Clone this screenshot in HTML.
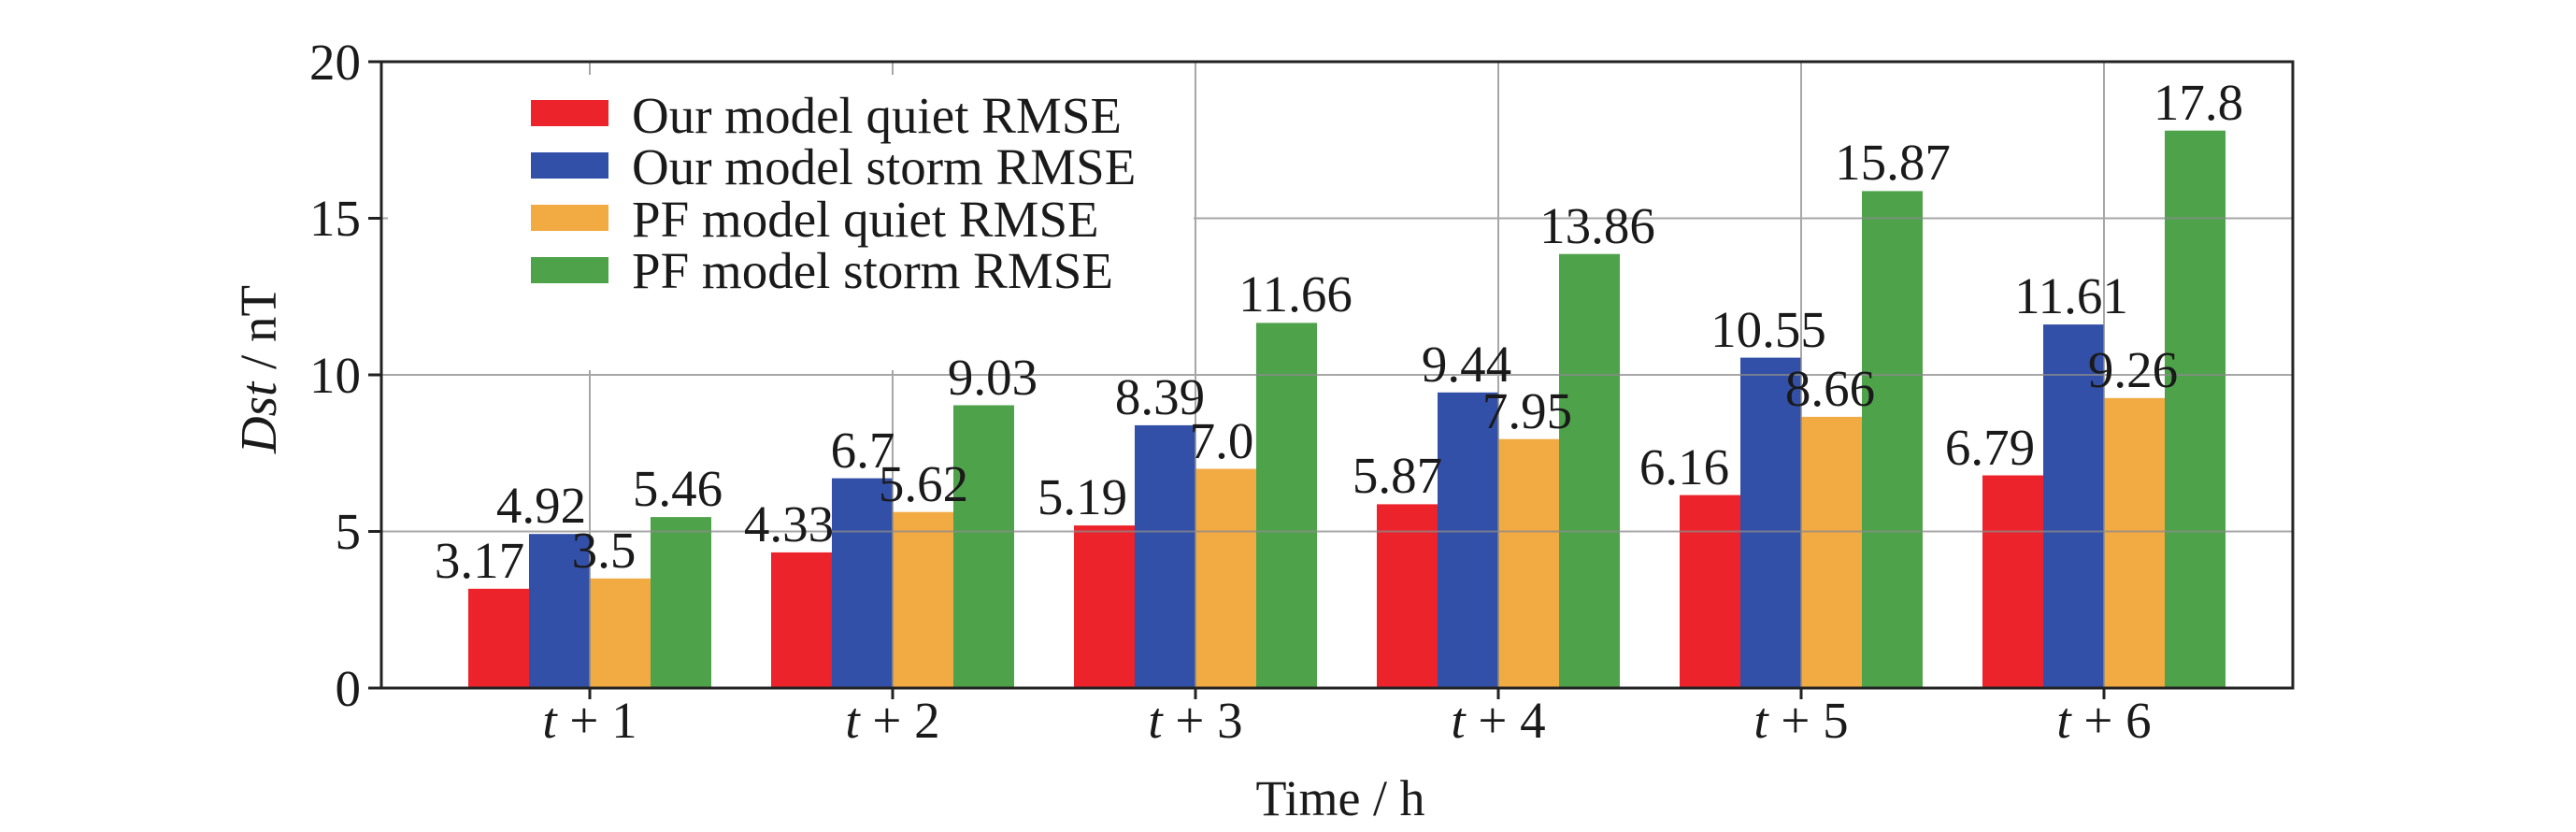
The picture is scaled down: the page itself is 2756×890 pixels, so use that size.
<!DOCTYPE html>
<html><head><meta charset="utf-8"><style>html,body{margin:0;padding:0;background:#fff}svg{display:block}</style></head>
<body>
<svg width="2756" height="890" viewBox="0 0 2756 890" xmlns="http://www.w3.org/2000/svg" font-family="Liberation Serif, serif" fill="#1a1a1a">
<g>
<rect x="501" y="629.8" width="65" height="106.2" fill="#ec232b"/>
<rect x="566" y="571.2" width="65" height="164.8" fill="#3350a8"/>
<rect x="631" y="618.8" width="65" height="117.2" fill="#f2aa42"/>
<rect x="696" y="553.1" width="65" height="182.9" fill="#4ea34a"/>
<rect x="825" y="590.9" width="65" height="145.1" fill="#ec232b"/>
<rect x="890" y="511.6" width="65" height="224.4" fill="#3350a8"/>
<rect x="955" y="547.7" width="65" height="188.3" fill="#f2aa42"/>
<rect x="1020" y="433.5" width="65" height="302.5" fill="#4ea34a"/>
<rect x="1149" y="562.1" width="65" height="173.9" fill="#ec232b"/>
<rect x="1214" y="454.9" width="65" height="281.1" fill="#3350a8"/>
<rect x="1279" y="501.5" width="65" height="234.5" fill="#f2aa42"/>
<rect x="1344" y="345.4" width="65" height="390.6" fill="#4ea34a"/>
<rect x="1473" y="539.4" width="65" height="196.6" fill="#ec232b"/>
<rect x="1538" y="419.8" width="65" height="316.2" fill="#3350a8"/>
<rect x="1603" y="469.7" width="65" height="266.3" fill="#f2aa42"/>
<rect x="1668" y="271.7" width="65" height="464.3" fill="#4ea34a"/>
<rect x="1797" y="529.6" width="65" height="206.4" fill="#ec232b"/>
<rect x="1862" y="382.6" width="65" height="353.4" fill="#3350a8"/>
<rect x="1927" y="445.9" width="65" height="290.1" fill="#f2aa42"/>
<rect x="1992" y="204.4" width="65" height="531.6" fill="#4ea34a"/>
<rect x="2121" y="508.5" width="65" height="227.5" fill="#ec232b"/>
<rect x="2186" y="347.1" width="65" height="388.9" fill="#3350a8"/>
<rect x="2251" y="425.8" width="65" height="310.2" fill="#f2aa42"/>
<rect x="2316" y="139.7" width="65" height="596.3" fill="#4ea34a"/>
</g>
<g stroke="#8a8a8a" stroke-width="2" opacity="0.75">
<line x1="408" y1="568.5" x2="2453" y2="568.5"/>
<line x1="408" y1="401" x2="2453" y2="401"/>
<line x1="408" y1="233.5" x2="2453" y2="233.5"/>
<line x1="631" y1="66" x2="631" y2="736"/>
<line x1="955" y1="66" x2="955" y2="736"/>
<line x1="1279" y1="66" x2="1279" y2="736"/>
<line x1="1603" y1="66" x2="1603" y2="736"/>
<line x1="1927" y1="66" x2="1927" y2="736"/>
<line x1="2251" y1="66" x2="2251" y2="736"/>
</g>
<rect x="415" y="80" width="862" height="316" fill="#fff"/>
<g font-size="55">
<rect x="568" y="107" width="83" height="28" fill="#ec232b"/>
<text x="676" y="142">Our model quiet RMSE</text>
<rect x="568" y="163" width="83" height="28" fill="#3350a8"/>
<text x="676" y="197">Our model storm RMSE</text>
<rect x="568" y="219" width="83" height="28" fill="#f2aa42"/>
<text x="676" y="253">PF model quiet RMSE</text>
<rect x="568" y="275" width="83" height="28" fill="#4ea34a"/>
<text x="676" y="308">PF model storm RMSE</text>
</g>
<rect x="408" y="66" width="2045" height="670" fill="none" stroke="#222" stroke-width="3"/>
<g stroke="#222" stroke-width="3">
<line x1="394" y1="736" x2="408" y2="736"/><line x1="394" y1="568.5" x2="408" y2="568.5"/>
<line x1="394" y1="401" x2="408" y2="401"/><line x1="394" y1="233.5" x2="408" y2="233.5"/>
<line x1="394" y1="66" x2="408" y2="66"/>
<line x1="631" y1="736" x2="631" y2="748"/><line x1="955" y1="736" x2="955" y2="748"/>
<line x1="1279" y1="736" x2="1279" y2="748"/><line x1="1603" y1="736" x2="1603" y2="748"/>
<line x1="1927" y1="736" x2="1927" y2="748"/><line x1="2251" y1="736" x2="2251" y2="748"/>
</g>
<g font-size="55" text-anchor="end">
<text x="386" y="755">0</text><text x="386" y="587">5</text><text x="386" y="420">10</text>
<text x="386" y="252">15</text><text x="386" y="85">20</text>
</g>
<g font-size="55" text-anchor="middle">
<text x="631" y="789"><tspan font-style="italic">t</tspan> + 1</text>
<text x="955" y="789"><tspan font-style="italic">t</tspan> + 2</text>
<text x="1279" y="789"><tspan font-style="italic">t</tspan> + 3</text>
<text x="1603" y="789"><tspan font-style="italic">t</tspan> + 4</text>
<text x="1927" y="789"><tspan font-style="italic">t</tspan> + 5</text>
<text x="2251" y="789"><tspan font-style="italic">t</tspan> + 6</text>
</g>
<text x="1434" y="872" font-size="54" text-anchor="middle">Time / h</text>
<text transform="translate(295,395) rotate(-90)" font-size="55" text-anchor="middle"><tspan font-style="italic">Dst</tspan> / nT</text>
<g font-size="55" text-anchor="middle">
<text x="513" y="618">3.17</text><text x="579" y="559">4.92</text><text x="646" y="607">3.5</text><text x="725" y="541">5.46</text>
<text x="844" y="579">4.33</text><text x="923" y="500">6.7</text><text x="988" y="536">5.62</text><text x="1062" y="422">9.03</text>
<text x="1158" y="550">5.19</text><text x="1241" y="443">8.39</text><text x="1307" y="490">7.0</text><text x="1386" y="333">11.66</text>
<text x="1495" y="527">5.87</text><text x="1569" y="408">9.44</text><text x="1634" y="458">7.95</text><text x="1709" y="260">13.86</text>
<text x="1802" y="518">6.16</text><text x="1892" y="371">10.55</text><text x="1958" y="434">8.66</text><text x="2025" y="192">15.87</text>
<text x="2129" y="497">6.79</text><text x="2216" y="335">11.61</text><text x="2282" y="414">9.26</text><text x="2352" y="128">17.8</text>
</g>
</svg>
</body></html>
